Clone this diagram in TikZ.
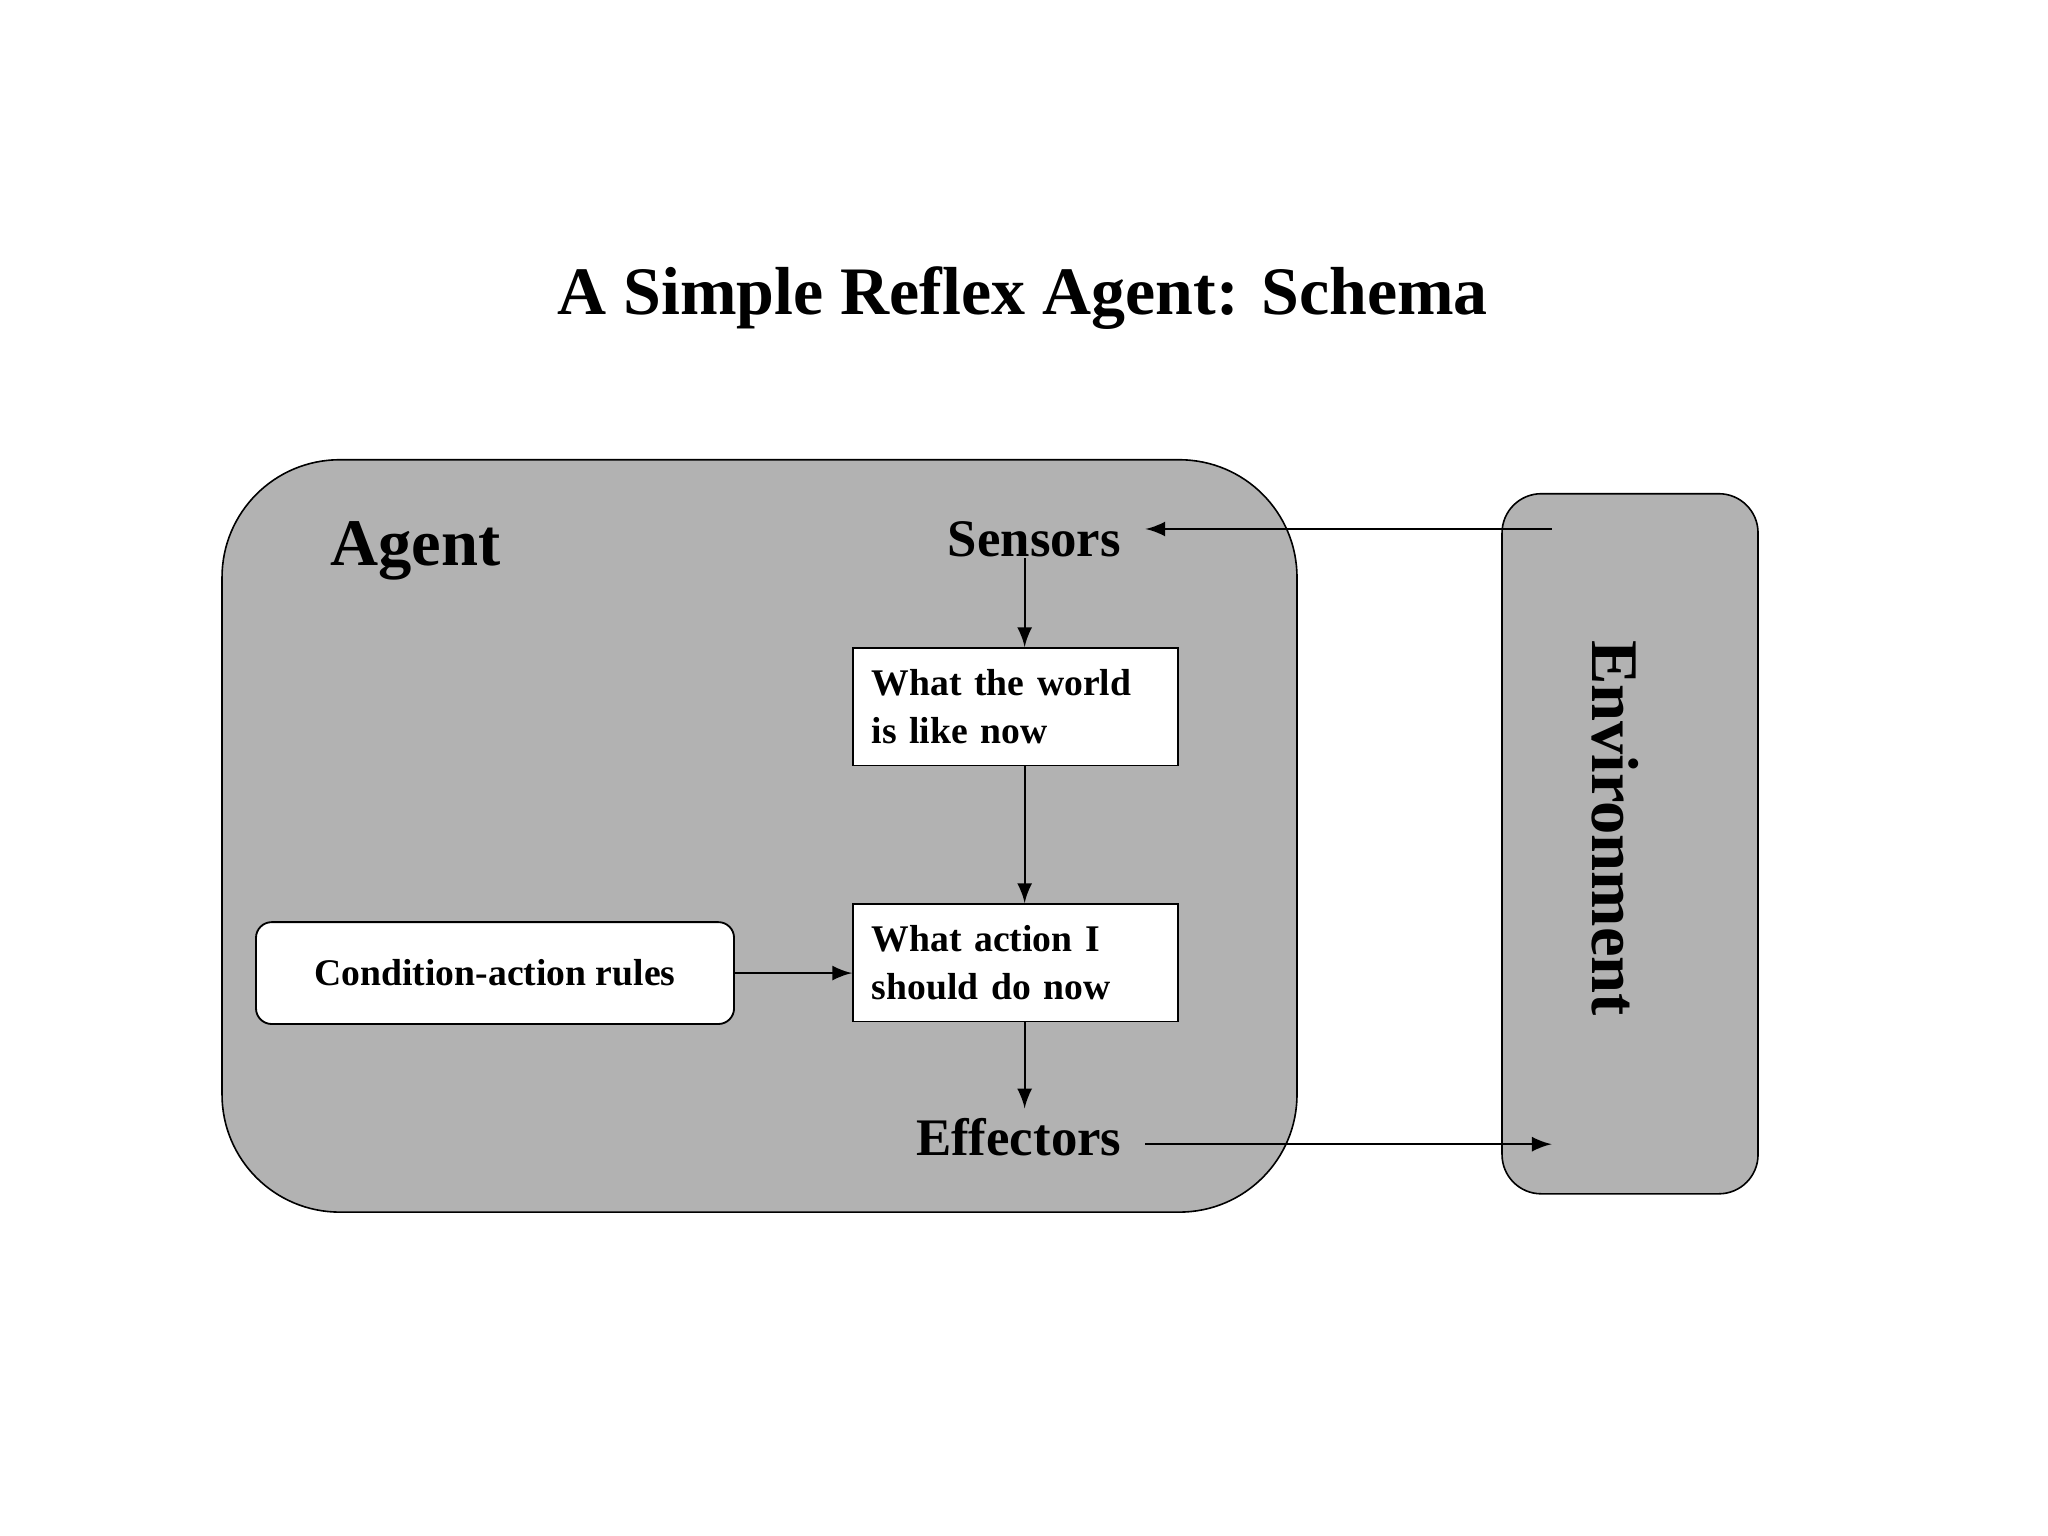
\documentclass[tikz,border=0pt]{standalone}
\usepackage{fontspec}
\setmainfont{Liberation Serif}
\begin{document}
\begin{tikzpicture}[x=0.1mm,y=-0.1mm,
  grayfill/.style={draw=black,fill=black!30,line width=0.35pt},
  wbox/.style={draw=black,fill=white,line width=0.35pt,minimum width=249*0.1mm,minimum height=90*0.1mm,text width=220*0.1mm,align=left,font=\fontsize{8.2}{10.5}\selectfont\bfseries,inner sep=0pt},
  lbl/.style={font=\fontsize{11.5}{13}\selectfont\bfseries,inner sep=0pt},
  arr/.style={-latex,line width=0.5pt}]
\useasboundingbox (0,0) rectangle (1568,1176);
\node[font=\fontsize{14.8}{17}\selectfont\bfseries] (title) at (783,228) {A Simple Reflex Agent: Schema};
\draw[grayfill,rounded corners=90*0.1mm] (170,352) rectangle (993,928);
\draw[grayfill,rounded corners=30*0.1mm] (1150,378) rectangle (1346,914);
\node[font=\fontsize{14.5}{17}\selectfont\bfseries] (agent) at (318,422) {Agent};
\node[font=\fontsize{14.5}{17}\selectfont\bfseries,rotate=-90] (env) at (1237,634) {Environment};
\node[lbl] (sens) at (792,413) {Sensors};
\node[lbl] (eff) at (780,871) {Effectors};
\node[wbox] (world) at (777.5,541) {What the world\\is like now};
\node[wbox] (action) at (777.5,737) {What action I\\should do now};
\node[draw=black,fill=white,rounded corners=12*0.1mm,minimum width=366*0.1mm,minimum height=78*0.1mm,font=\fontsize{8.2}{10}\selectfont\bfseries,inner sep=0pt] (rules) at (379,745) {Condition-action rules};
\coordinate (envin) at (1188,405);
\coordinate (envout) at (1188,876);
\draw[arr] (envin) -- (877,405) coordinate (sensr);
\draw[arr] (sens.south -| world.north) ++(7,0) -- ([xshift=7*0.1mm]world.north);
\draw[arr] ([xshift=7*0.1mm]world.south) -- ([xshift=7*0.1mm]action.north);
\draw[arr] (rules.east) -- (action.west |- rules.east);
\draw[arr] ([xshift=7*0.1mm]action.south) -- ([xshift=7*0.1mm,yshift=-66*0.1mm]action.south);
\draw[arr] (877,876) -- (envout);
\end{tikzpicture}
\end{document}
